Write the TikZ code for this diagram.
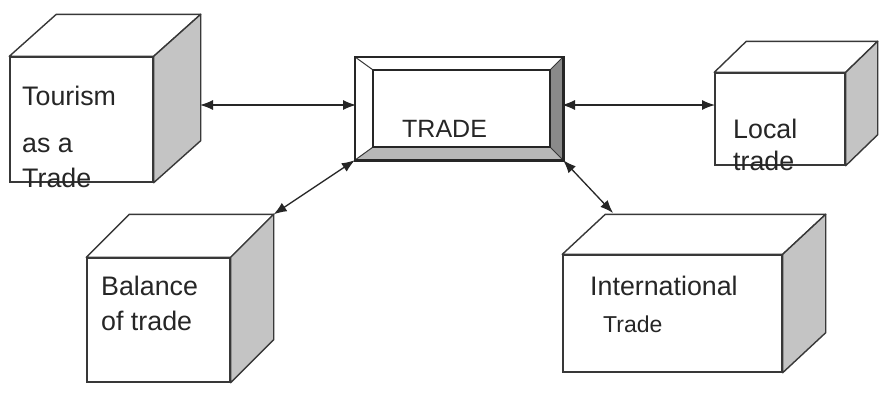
\documentclass[tikz,border=0pt]{standalone}
\usepackage{fontspec}
\setmainfont{Liberation Sans}
\usetikzlibrary{arrows.meta,calc,fit}
\definecolor{edge}{HTML}{383838}
\definecolor{sidegray}{HTML}{C4C4C4}
\definecolor{bevdark}{HTML}{8A8A8A}
\definecolor{bevlight}{HTML}{B8B8B8}
\newcommand{\mycube}[7]{%
  \path (#2,#3) coordinate (#1-nw) (#4,#5) coordinate (#1-se);
  \node[frontface, fit=(#1-nw)(#1-se)] (#1) {};
  \filldraw[facestyle, fill=white] (#1.north west) -- ++(#6,#7) -- ($(#1.north east)+(#6,#7)$) -- (#1.north east) -- cycle;
  \filldraw[facestyle, fill=sidegray] (#1.north east) -- ++(#6,#7) -- ($(#1.south east)+(#6,#7)$) -- (#1.south east) -- cycle;
  \coordinate (#1-bne) at ($(#1.north east)+(#6,#7)$);
  \coordinate (#1-bnw) at ($(#1.north west)+(#6,#7)$);
}
\tikzset{
  frontface/.style={draw=edge, line width=1.4pt, fill=white, inner sep=0pt, rectangle},
  facestyle/.style={draw=edge, line width=1.4pt, line join=round},
  lbl/.style={anchor=base west, inner sep=0pt, font=\fontsize{26.8}{30}\selectfont, text=black!85},
  link/.style={line width=1.3pt, draw=black!85, {Latex[length=13pt,width=10pt]}-{Latex[length=13pt,width=10pt]}},
}
\begin{document}
\begin{tikzpicture}[x=1pt,y=-1pt]
\useasboundingbox[fill=white] (0,0) rectangle (883,394);

% cubes
\mycube{tour}{10}{57}{153}{182}{47}{-42}
\mycube{local}{715}{73}{845}{165}{32}{-31}
\mycube{bal}{87}{258}{230}{382}{43}{-43}
\mycube{intl}{563}{255}{782}{372}{43}{-40}

% TRADE box
\path (355,57) coordinate (tr-onw) (563,160) coordinate (tr-ose)
      (373,70) coordinate (tr-inw) (550,147) coordinate (tr-ise);
\node[inner sep=0pt, fit=(tr-onw)(tr-ose)] (trade) {};
\node[inner sep=0pt, fit=(tr-inw)(tr-ise)] (tradein) {};
\fill[white] (trade.north west) -- (trade.south west) -- (tradein.south west) -- (tradein.north west) -- cycle;
\fill[white] (trade.north west) -- (trade.north east) -- (tradein.north east) -- (tradein.north west) -- cycle;
\fill[bevdark] (trade.north east) -- (trade.south east) -- (tradein.south east) -- (tradein.north east) -- cycle;
\fill[bevlight] (trade.south west) -- (trade.south east) -- (tradein.south east) -- (tradein.south west) -- cycle;
\draw[edge, line width=1pt] (trade.north west) -- (tradein.north west)
  (trade.north east) -- (tradein.north east)
  (trade.south west) -- (tradein.south west)
  (trade.south east) -- (tradein.south east);
\draw[black!85, line width=2.6pt] (trade.north west) rectangle (trade.south east);
\draw[black!85, line width=2pt] (tradein.north west) rectangle (tradein.south east);
\node[lbl, font=\fontsize{25}{30}\selectfont] (tradetxt) at (402,137) {TRADE};

% labels
\node[lbl] (t1) at (22,105) {Tourism};
\node[lbl] (t2) at (22,152) {as a};
\node[lbl] (t3) at (22,187) {Trade};
\node[lbl] (l1) at (733,138) {Local};
\node[lbl] (l2) at (733,170) {trade};
\node[lbl] (b1) at (101,295) {Balance};
\node[lbl] (b2) at (101,330) {of trade};
\node[lbl] (i1) at (590,295) {International};
\node[lbl, font=\fontsize{23}{28}\selectfont] (i2) at (603,332) {Trade};

% connectors
\coordinate (tourR) at (200,105);
\coordinate (tradeL) at (356,105);
\coordinate (tradeR) at (562,105);
\coordinate (localL) at (715,105);
\coordinate (intlTip) at (613,213);
\draw[link] (tourR) -- (tradeL);
\draw[link] (tradeR) -- (localL);
\draw[link] (trade.south west) -- (bal-bne);
\draw[link] (trade.south east) -- (intlTip);
\end{tikzpicture}
\end{document}
